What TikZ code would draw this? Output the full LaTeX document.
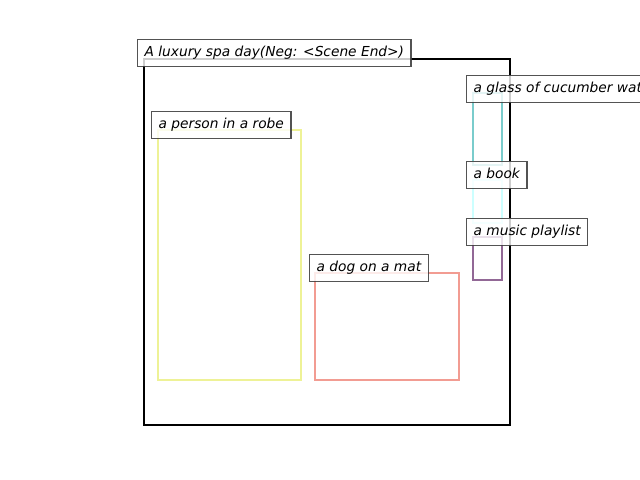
\documentclass[tikz,border=0pt]{standalone}
\usepackage{fontspec}
\setmainfont{DejaVu Sans}
\definecolor{cblack}{RGB}{0,0,0}
\definecolor{cyellow}{RGB}{238,242,150}
\definecolor{csalmon}{RGB}{242,156,146}
\definecolor{cteal}{RGB}{122,204,204}
\definecolor{ccyan}{RGB}{204,255,255}
\definecolor{cpurple}{RGB}{146,104,150}
\definecolor{cborder}{RGB}{64,64,64}
\begin{document}
\begin{tikzpicture}[x=0.72pt,y=-0.72pt,
  bbox/.style={line width=1.9pt},
  lbl/.style={anchor=south west, draw=cborder, line width=0.9pt, fill=white,
    fill opacity=0.8, draw opacity=0.9, text opacity=1, font=\fontsize{9.9}{12}\selectfont\itshape,
    inner xsep=5.04pt, inner ysep=4.4pt, text height=8.3pt, text depth=2.5pt}]
\useasboundingbox (0,0) rectangle (640,480);
\clip (0,0) rectangle (640,480);
% boxes
\draw[bbox, cblack] (144,59) rectangle (510,425);
\draw[bbox, cyellow] (158,130) rectangle (301,380);
\draw[bbox, csalmon] (315,273) rectangle (459,380);
\draw[bbox, cteal] (473,93) rectangle (502,165);
\draw[bbox, ccyan] (473,180) rectangle (502,223);
\draw[bbox, cpurple] (473,237) rectangle (502,280);
% labels
\node[lbl] (title) at (137,67) {A luxury spa day(Neg: <Scene End>)};
\node[lbl] (person) at (151,139) {a person in a robe};
\node[lbl] (glass) at (466,103) {a glass of cucumber water};
\node[lbl] (book) at (466,189) {a book};
\node[lbl] (playlist) at (466,246) {a music playlist};
\node[lbl] (dog) at (309,282) {a dog on a mat};
\end{tikzpicture}
\end{document}
